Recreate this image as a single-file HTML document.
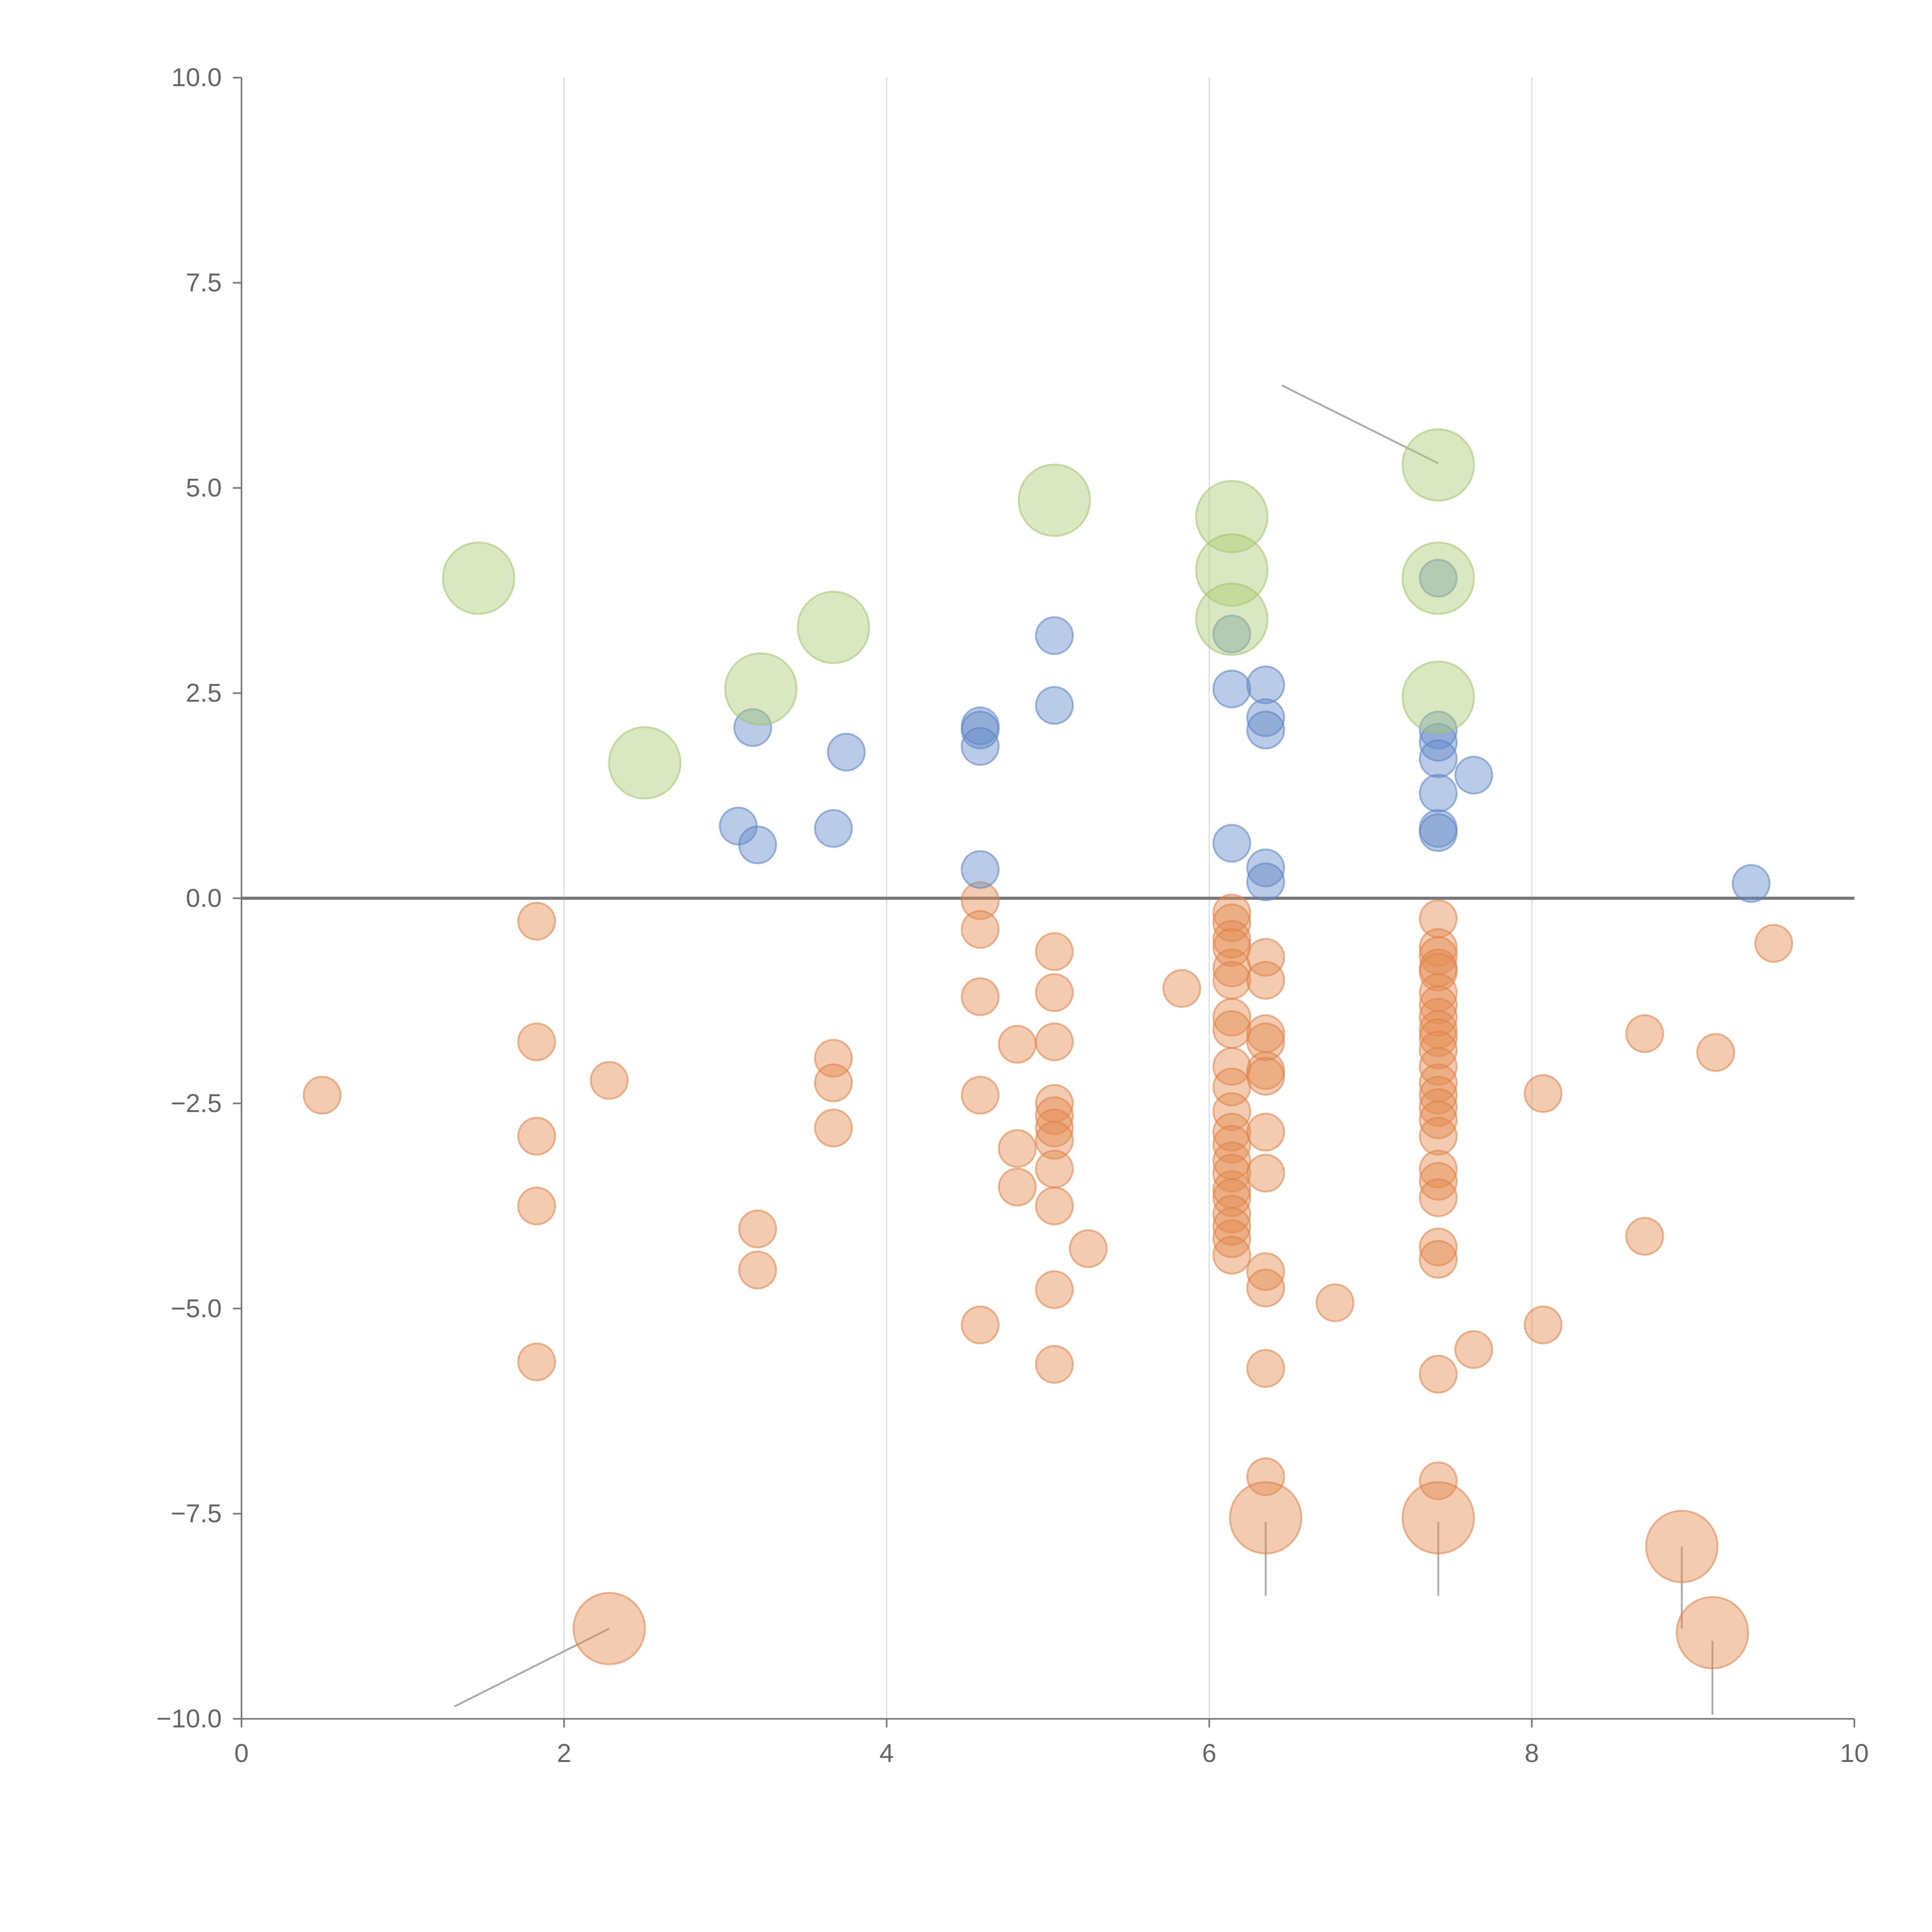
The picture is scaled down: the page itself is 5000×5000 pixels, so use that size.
<!DOCTYPE html>
<html><head><meta charset="utf-8">
<style>
html,body{margin:0;padding:0;background:#fff;}
svg{display:block;font-family:"Liberation Sans",Arial,sans-serif;}
</style></head>
<body>
<svg id="chart" width="5000" height="5000" viewBox="0 0 1568 1568" xmlns="http://www.w3.org/2000/svg">
<g id="grid"></g>
<g id="axes"></g>
<g id="marks"></g>
</svg>
<script>
const greenX=[1.47,2.5,3.22,3.67,5.04,6.14,6.14,6.14,7.42,7.42,7.42];
const greenY=[3.9,1.65,2.55,3.3,4.85,4.65,4.0,3.4,5.28,3.9,2.45];
const blueX=[3.08,3.2,3.17,3.67,3.75,4.58,4.58,4.58,4.58,5.04,5.04,6.14,6.14,6.14,6.35,6.35,6.35,6.35,6.35,7.42,7.42,7.42,7.42,7.42,7.42,7.42,7.64,9.36];
const blueY=[0.88,0.65,2.08,0.85,1.78,2.1,2.05,1.85,0.35,3.2,2.35,3.22,2.55,0.67,2.6,2.2,2.05,0.37,0.2,3.9,2.05,1.9,1.7,1.28,0.85,0.8,1.5,0.18];
const orangeGroupsX=[0.5,1.83,2.28,3.2,3.67,4.58,4.81,5.04,5.25,5.83,6.14,6.35,6.78,7.42,7.64,8.07,8.7,9.14,9.5];
const orangeGroupsY=[[-2.4],[-0.28,-1.75,-2.9,-3.75,-5.65],[-2.22],[-4.03,-4.53],[-1.95,-2.25,-2.8],
[-0.03,-0.38,-1.2,-2.4,-5.2],[-1.78,-3.05,-3.52],[-0.65,-1.15,-1.75,-2.5,-2.65,-2.8,-2.95,-3.3,-3.75,-4.77,-5.68],
[-4.27],[-1.1],[-0.18,-0.3,-0.5,-0.6,-0.85,-1.0,-1.45,-1.6,-2.05,-2.3,-2.6,-2.85,-3.0,-3.2,-3.35,-3.55,-3.65,-3.85,-4.0,-4.15,-4.35],
[-0.72,-1.0,-1.65,-1.75,-2.1,-2.17,-2.85,-3.35,-4.55,-4.75,-5.73,-7.05],[-4.93],
[-0.25,-0.6,-0.7,-0.85,-0.9,-1.15,-1.3,-1.45,-1.6,-1.7,-1.85,-2.05,-2.25,-2.4,-2.55,-2.7,-2.9,-3.3,-3.45,-3.65,-4.25,-4.4,-5.8,-7.1],
[-5.5],[-2.38,-5.2],[-1.65,-4.12],[-1.88],[-0.55]];
const bigOrangeX=[2.28,6.35,7.42,8.93,9.12];
const bigOrangeY=[-8.9,-7.55,-7.55,-7.9,-8.95];
const leaderX1=[1.32,6.35,7.42,8.93,9.12,6.45];
const leaderY1=[-9.85,-8.5,-8.5,-8.9,-9.95,6.25];
const leaderX2=[2.28,6.35,7.42,8.93,9.12,7.42];
const leaderY2=[-8.9,-7.6,-7.6,-7.9,-9.05,5.3];
const xTicks=[0,2,4,6,8,10];
const yTicks=[-10,-7.5,-5,-2.5,0,2.5,5,7.5,10];

const NS="http://www.w3.org/2000/svg";
const X0=196,X1=1505,Y0=1395,Y1=63;
const sx=v=>X0+(v-0)/10*(X1-X0);
const sy=v=>Y0-(v+10)/20*(Y0-Y1);
function mk(tag,attrs,parent){const e=document.createElementNS(NS,tag);for(const k in attrs)e.setAttribute(k,attrs[k]);parent.appendChild(e);return e;}
const grid=document.getElementById('grid'),axes=document.getElementById('axes'),marks=document.getElementById('marks');
const fmtY=v=>(v<0?'\u2212':'')+Math.abs(v).toFixed(1);

xTicks.forEach(t=>{
  if(t>0&&t<10){const g=mk('line',{x1:sx(t),x2:sx(t),y1:Y1,y2:Y0,stroke:'#dcdcdc','stroke-width':1},grid);
  
  }
  const tk=mk('line',{x1:sx(t),x2:sx(t),y1:Y0,y2:Y0+7,stroke:'#777','stroke-width':1.3},axes);
  
  
  const tx=mk('text',{x:sx(t),y:Y0+35,'text-anchor':'middle','font-size':21,fill:'#666'},axes);
  tx.textContent=t;
  
  
});
yTicks.forEach(t=>{
  const tk=mk('line',{x1:X0-7,x2:X0,y1:sy(t),y2:sy(t),stroke:'#777','stroke-width':1.3},axes);
  
  
  const tx=mk('text',{x:X0-16,y:sy(t)+7,'text-anchor':'end','font-size':21,fill:'#666'},axes);
  tx.textContent=fmtY(t);
  
  
});
const ya=mk('line',{x1:X0,x2:X0,y1:Y1,y2:Y0,stroke:'#777','stroke-width':1.3},axes);


const xa=mk('line',{x1:X0,x2:X1,y1:Y0,y2:Y0,stroke:'#777','stroke-width':1.3},axes);



for(let i=0;i<leaderX1.length;i++){
  const l=mk('line',{x1:sx(leaderX1[i]),y1:sy(leaderY1[i]),x2:sx(leaderX2[i]),y2:sy(leaderY2[i]),stroke:'#aaa','stroke-width':1.5},marks);
  
  
}
function dot(x,y,r,fill,stroke,name){
  const c=mk('circle',{cx:sx(x),cy:sy(y),r:r,fill:fill,stroke:stroke,'stroke-width':1.5},marks);
  
  
}
orangeGroupsX.forEach((x,i)=>orangeGroupsY[i].forEach(y=>dot(x,y,15,'rgba(229,140,80,0.45)','rgba(220,130,70,0.55)','orange-point')));
bigOrangeX.forEach((x,i)=>dot(x,bigOrangeY[i],29,'rgba(229,140,80,0.45)','rgba(220,130,70,0.55)','orange-large-point'));
blueX.forEach((x,i)=>dot(x,blueY[i],15,'rgba(100,140,200,0.45)','rgba(90,130,195,0.55)','blue-point'));
greenX.forEach((x,i)=>dot(x,greenY[i],29,'rgba(170,203,115,0.45)','rgba(160,195,105,0.55)','green-point'));

const zl=mk('line',{x1:X0,x2:X1,y1:sy(0),y2:sy(0),stroke:'#777','stroke-width':2.5},axes);


</script>
</body></html>
